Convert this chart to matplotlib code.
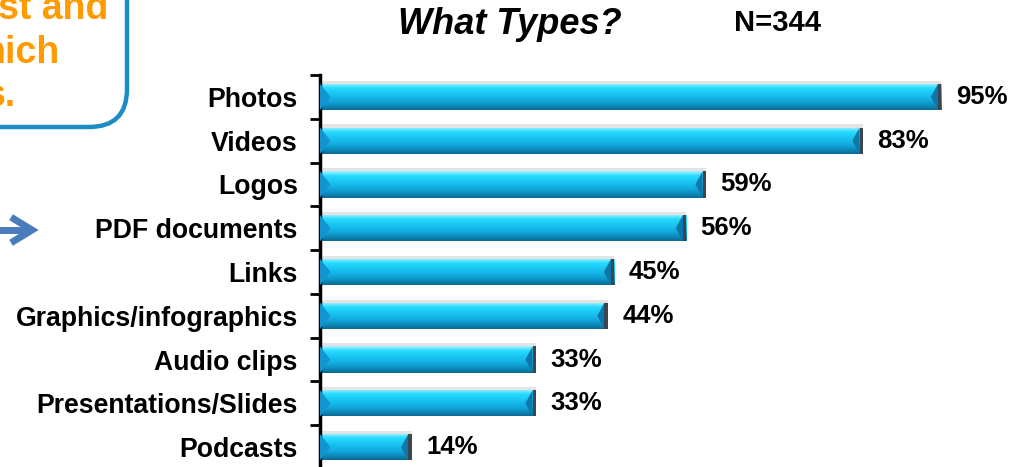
import numpy as np
import matplotlib
matplotlib.use("Agg")
import matplotlib.pyplot as plt
from matplotlib.patches import FancyBboxPatch, Rectangle, Polygon
from matplotlib.colors import to_rgb

plt.rcParams['font.family'] = ['Liberation Sans', 'DejaVu Sans']

categories = ['Photos', 'Videos', 'Logos', 'PDF documents', 'Links',
              'Graphics/infographics', 'Audio clips', 'Presentations/Slides',
              'Podcasts']
values = [95, 83, 59, 56, 45, 44, 33, 33, 14]
title = 'What Types?'
n_label = 'N=344'

fig = plt.figure(figsize=(10.26, 4.67), dpi=100)

# pixel-space overlay for the decorations around the chart
deco = fig.add_axes([0, 0, 1, 1])
deco.set_xlim(0, 1026)
deco.set_ylim(467, 0)
deco.axis('off')

box = FancyBboxPatch((-200, -100), 327, 227,
                     boxstyle="round,pad=0,rounding_size=38",
                     facecolor='white', edgecolor='#1c8cc4', lw=3.2)
deco.add_patch(box)
orange = '#ff9a00'
deco.text(108, 9, 'st and', color=orange, fontsize=27, fontweight='bold',
          ha='right', va='center')
deco.text(60, 53, 'hich', color=orange, fontsize=27, fontweight='bold',
          ha='right', va='center')
deco.text(16, 96, 's.', color=orange, fontsize=27, fontweight='bold',
          ha='right', va='center')

# small arrow on the left
deco.plot([-5, 30], [230, 230], color='#4a7cbc', lw=5, solid_capstyle='butt')
deco.plot([14, 32, 14], [219, 230, 241], color='#4a7cbc', lw=5,
          solid_joinstyle='miter')

deco.text(510, 24, title, fontsize=26, fontweight='bold', style='italic',
          ha='center', va='center')
deco.text(778, 23, n_label, fontsize=21, fontweight='bold',
          ha='center', va='center')

ax = fig.add_axes([320 / 1026, -2 / 467, 654 / 1026, 394 / 467])
y = np.arange(len(categories))
h = 0.6
bars = ax.barh(y, values, height=h, color='none')

# vertical shading of each bar (top to bottom)
stops = ['#a8f2ff', '#2adcff', '#1ccbf5', '#16bbec', '#12a8dc',
         '#0e8cbe', '#0b6a92']
grad = np.array([to_rgb(c) for c in stops])
rows = np.linspace(0, 1, 60)
img = np.stack([np.interp(rows, np.linspace(0, 1, len(stops)), grad[:, k])
                for k in range(3)], axis=-1)[:, None, :]

for yi, v, rect in zip(y, values, bars):
    top, bot = yi - h / 2, yi + h / 2
    ax.add_patch(Rectangle((0, top - 0.07), v, 0.07, facecolor='#e4e4e4',
                           edgecolor='none', zorder=1))
    im = ax.imshow(img, extent=(0, v, bot, top), origin='upper',
                   aspect='auto', zorder=2)
    im.set_clip_path(rect)
    # bevelled left end
    ax.add_patch(Polygon([(0, top), (1.6, yi), (0, bot)], closed=True,
                         facecolor='#1294d0', edgecolor='none', zorder=3))
    # dark right end cap
    ax.add_patch(Polygon([(v - 1.6, yi), (v - 0.5, top), (v - 0.5, bot)],
                         closed=True, facecolor='#0d78a8', edgecolor='none',
                         zorder=3))
    ax.add_patch(Rectangle((v - 0.5, top), 0.5, h, facecolor='#3b4650',
                           edgecolor='none', zorder=3))
    ax.text(v + 2.2, yi, f'{v}%', fontsize=18.5, fontweight='bold',
            ha='left', va='center')

ax.set_xlim(0, 100)
ax.set_ylim(len(categories) - 0.5, -0.5)
ax.set_yticks(y)
ax.set_yticklabels(categories, fontsize=19.2, fontweight='bold')
ax.set_yticks(np.arange(-0.5, len(categories)), minor=True)
ax.tick_params(axis='y', which='major', length=0, pad=16)
ax.tick_params(axis='y', which='minor', length=7, width=2, direction='out')
ax.set_xticks([])
for side in ['top', 'right', 'bottom']:
    ax.spines[side].set_visible(False)
ax.spines['left'].set_linewidth(2.5)
ax.patch.set_alpha(0)

fig.savefig('out.png', dpi=100)
